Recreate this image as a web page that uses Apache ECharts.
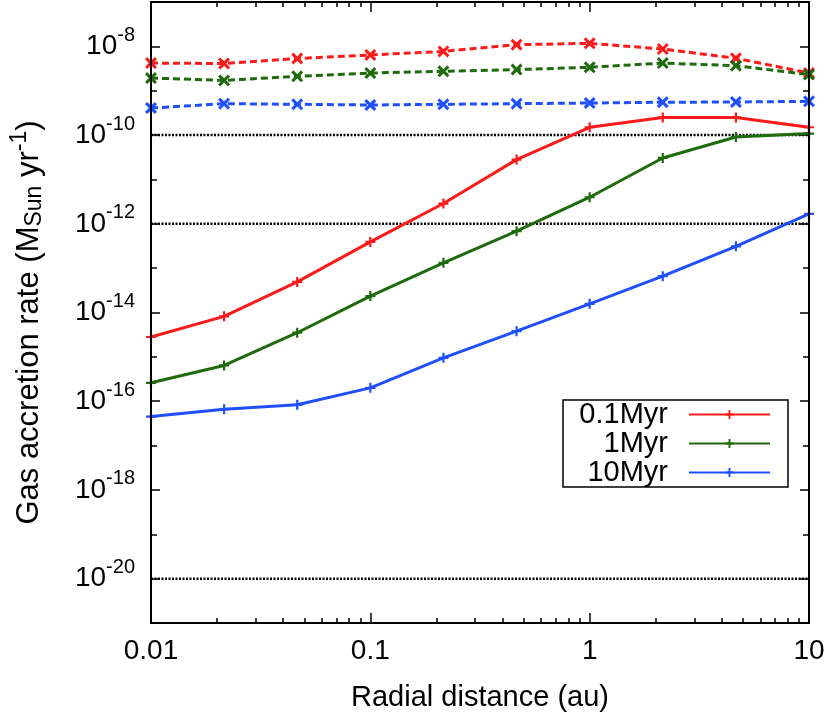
<!DOCTYPE html>
<html><head><meta charset="utf-8">
<script src="https://cdn.jsdelivr.net/npm/echarts@6/dist/echarts.min.js"></script>
<style>html,body{margin:0;padding:0;background:#fff;overflow:hidden;width:830px;height:722px}#c{display:block;width:830px;height:722px}</style>
</head><body><div id="c"></div>
<script>
// ---- data ----
const radius = [0.01, 0.02154, 0.04642, 0.1, 0.2154, 0.4642, 1, 2.154, 4.642, 10];
const rate01Myr = [2.8e-15, 8.2e-15, 4.9e-14, 3.9e-13, 2.86e-12, 2.8e-11, 1.5e-10, 2.5e-10, 2.5e-10, 1.5e-10];
const rate1Myr = [2.6e-16, 6.4e-16, 3.5e-15, 2.34e-14, 1.32e-13, 6.8e-13, 3.97e-12, 3.05e-11, 9.06e-11, 1.08e-10];
const rate10Myr = [4.5e-17, 6.6e-17, 8.3e-17, 2.0e-16, 9.5e-16, 3.8e-15, 1.57e-14, 6.6e-14, 3.1e-13, 1.67e-12];
const dashed01Myr = [4.2e-9, 4.1e-9, 5.3e-9, 6.4e-9, 7.7e-9, 1.09e-8, 1.17e-8, 8.7e-9, 5.4e-9, 2.5e-9];
const dashed1Myr = [1.93e-9, 1.71e-9, 2.11e-9, 2.5e-9, 2.74e-9, 2.99e-9, 3.37e-9, 4.2e-9, 3.67e-9, 2.31e-9];
const dashed10Myr = [4.07e-10, 5.1e-10, 4.94e-10, 4.76e-10, 4.94e-10, 5.1e-10, 5.28e-10, 5.5e-10, 5.56e-10, 5.77e-10];
const seriesNames = ['0.1Myr', '1Myr', '10Myr'];
const refLines = [1e-10, 1e-12, 1e-20];
const xRange = [0.01, 10];
const yRange = [1e-21, 1e-7];
const xMajorTicks = [0.01, 0.1, 1, 10];
const xMinorTicks = [0.02, 0.03, 0.04, 0.05, 0.06, 0.07, 0.08, 0.09,
                     0.2, 0.3, 0.4, 0.5, 0.6, 0.7, 0.8, 0.9,
                     2, 3, 4, 5, 6, 7, 8, 9];
const yLabelTicks = [1e-20, 1e-18, 1e-16, 1e-14, 1e-12, 1e-10, 1e-8];
const yMinorTicks = [1e-19, 1e-17, 1e-15, 1e-13, 1e-11, 1e-9];

// ---- styling ----
const FONT = '"Liberation Sans", Arial, Helvetica, sans-serif';
const colors = ['#ff1a1a', '#1e6a0c', '#1f4fff'];
const plusPath = 'path://M3.9,0H6.1V3.9H10V6.1H6.1V10H3.9V6.1H0V3.9H3.9Z';
const crossPath = 'path://M0,1.8L1.8,0L5,3.2L8.2,0L10,1.8L6.8,5L10,8.2L8.2,10L5,6.8L1.8,10L0,8.2L3.2,5Z';

const pairs = arr => radius.map((x, i) => [x, arr[i]]);

function xAxisDef(pos, ticks, len, labels, name, showLine) {
  return {
    type: 'log', logBase: 10, min: xRange[0], max: xRange[1], position: pos,
    name: name || '', nameLocation: 'middle', nameGap: 60,
    nameTextStyle: { fontFamily: FONT, fontSize: 29, color: '#000' },
    axisLine: { show: !!showLine, onZero: false, lineStyle: { color: '#000', width: 2 } },
    axisTick: { show: true, inside: true, length: len, customValues: ticks, lineStyle: { color: '#000', width: 1.5 } },
    axisLabel: labels ? {
      show: true, customValues: xMajorTicks, margin: 14,
      fontFamily: FONT, fontSize: 28, color: '#000',
      formatter: v => String(Number(v.toPrecision(3)))
    } : { show: false },
    minorTick: { show: false }, splitLine: { show: false }, minorSplitLine: { show: false }
  };
}

function yAxisDef(pos, ticks, len, labels, name) {
  return {
    type: 'log', logBase: 10, min: yRange[0], max: yRange[1], position: pos,
    name: name || '', nameLocation: 'middle', nameGap: 101,
    nameTextStyle: {
      fontFamily: FONT, fontSize: 31, color: '#000', padding: [0, 20, 0, 0],
      rich: {
        sub: { fontFamily: FONT, fontSize: 23, color: '#000', padding: [11, 0, 0, 0] },
        sup: { fontFamily: FONT, fontSize: 23, color: '#000', padding: [0, 0, 19, 0] }
      }
    },
    axisLine: { show: false, onZero: false },
    axisTick: { show: true, inside: true, length: len, customValues: ticks, lineStyle: { color: '#000', width: 1.5 } },
    axisLabel: labels ? {
      show: true, customValues: yLabelTicks, margin: 16,
      formatter: v => '{b|10}{s|' + Math.round(Math.log10(v)) + '}',
      rich: {
        b: { fontFamily: FONT, fontSize: 28, color: '#000' },
        s: { fontFamily: FONT, fontSize: 20, color: '#000', padding: [0, 0, 22, 0] }
      }
    } : { show: false },
    minorTick: { show: false }, splitLine: { show: false }, minorSplitLine: { show: false }
  };
}

const solidData = [rate01Myr, rate1Myr, rate10Myr];
const dashedData = [dashed01Myr, dashed1Myr, dashed10Myr];

const series = [];
refLines.forEach((v, i) => {
  series.push({
    name: 'ref' + i, type: 'line', data: [[xRange[0], v], [xRange[1], v]],
    symbol: 'none', silent: true,
    lineStyle: { color: '#000', width: 2.5, type: [2, 1.5] },
    z: 2
  });
});
dashedData.forEach((d, i) => {
  series.push({
    name: seriesNames[i] + ' (total)', type: 'line', data: pairs(d),
    symbol: crossPath, symbolSize: 12,
    lineStyle: { color: colors[i], width: 3, type: [7, 4] },
    itemStyle: { color: colors[i] },
    z: 3
  });
});
solidData.forEach((d, i) => {
  series.push({
    name: seriesNames[i], type: 'line', data: pairs(d),
    symbol: plusPath, symbolSize: 10,
    lineStyle: { color: colors[i], width: 3 },
    itemStyle: { color: colors[i] },
    z: 4
  });
});

const chart = echarts.init(document.getElementById('c'), null, { renderer: 'canvas' });
chart.setOption({
  animation: false,
  backgroundColor: '#fff',
  grid: { show: true, left: 147, right: 21, top: 2, bottom: 99, containLabel: false,
          borderColor: '#000', borderWidth: 2, backgroundColor: 'transparent', z: 10 },
  xAxis: [
    xAxisDef('bottom', xMajorTicks, 10, true, 'Radial distance (au)', false),
    xAxisDef('bottom', xMinorTicks, 5, false, '', false),
    xAxisDef('top', xMajorTicks, 10, false, '', true),
    xAxisDef('top', xMinorTicks, 5, false, '', false)
  ],
  yAxis: [
    yAxisDef('left', yLabelTicks, 9, true, 'Gas accretion rate (M{sub|Sun} yr{sup|-1})'),
    yAxisDef('left', yMinorTicks, 6, false, ''),
    yAxisDef('right', yLabelTicks, 9, false, ''),
    yAxisDef('right', yMinorTicks, 6, false, '')
  ],
  legend: {
    data: seriesNames,
    orient: 'vertical', left: 563, top: 400, align: 'right',
    itemWidth: 81, itemHeight: 11, itemGap: 0,
    padding: [0, 17, 0, 10],
    borderColor: '#000', borderWidth: 1.5, borderRadius: 0,
    backgroundColor: '#fff',
    selectedMode: false,
    formatter: n => '{t|' + n + '}{g| }',
    textStyle: {
      fontFamily: FONT, fontSize: 29, color: '#000',
      rich: {
        t: { fontFamily: FONT, fontSize: 29, color: '#000', width: 95, align: 'right', lineHeight: 30 },
        g: { fontFamily: FONT, fontSize: 29, width: 16, lineHeight: 30 }
      }
    }
  },
  series: series
});
</script></body></html>
